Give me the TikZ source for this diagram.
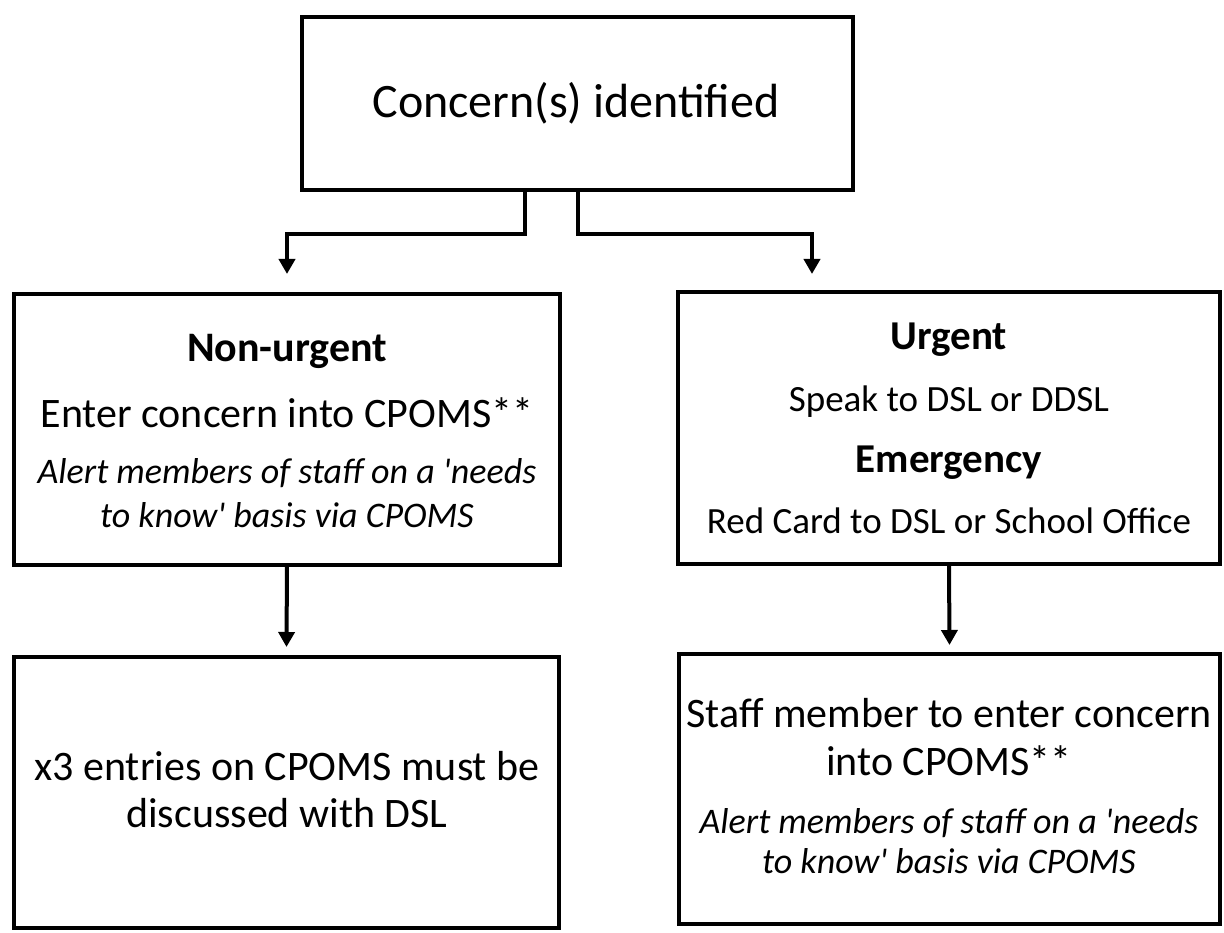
\documentclass[tikz,border=0pt]{standalone}
\usepackage{fontspec}
\setmainfont{Carlito}
\usetikzlibrary{arrows.meta}
\begin{document}
\begin{tikzpicture}[x=1pt,y=-1pt,
  box/.style={draw=black, line width=4.5pt, inner sep=0pt, outer sep=0pt},
  conn/.style={draw=black, line width=4pt, -{Triangle[width=16pt,length=15pt]}},
  txt/.style={anchor=base, inner sep=0pt, outer sep=0pt},
  big/.style={font=\fontsize{48}{58}\selectfont},
  mid/.style={font=\fontsize{42}{50}\selectfont},
  midb/.style={font=\bfseries\fontsize{42}{50}\selectfont},
  rb/.style={font=\bfseries\fontsize{41}{49}\selectfont},
  sm/.style={font=\fontsize{37}{44}\selectfont},
  it/.style={font=\itshape\fontsize{36}{43}\selectfont}]
\useasboundingbox (0,0) rectangle (1224,933);
\fill[white] (0,0) rectangle (1224,933);
% boxes
\node[box, minimum width=551pt, minimum height=173pt] (top) at (577.5,103.5) {};
\node[box, minimum width=546pt, minimum height=271pt] (l2) at (287,429.5) {};
\node[box, minimum width=542pt, minimum height=272pt] (r2) at (949,428) {};
\node[box, minimum width=545pt, minimum height=271pt] (l3) at (286.5,792.5) {};
\node[box, minimum width=541pt, minimum height=270pt] (r3) at (949.5,789) {};
% texts
\node[txt, big] (t0) at (576,118) {Concern(s) identified};
\node[txt, midb] (t1) at (287,362) {Non-urgent};
\node[txt, mid] (t2) at (287,427) {Enter concern into CPOMS**};
\node[txt, it] (t3) at (287,483) {Alert members of staff on a \textquotesingle needs};
\node[txt, it] (t4) at (287,527) {to know\textquotesingle{} basis via CPOMS};
\node[txt, rb] (u1) at (949,350) {Urgent};
\node[txt, sm] (u2) at (949,411) {Speak to DSL or DDSL};
\node[txt, rb] (u3) at (949,472) {Emergency};
\node[txt, sm] (u4) at (949,533) {Red Card to DSL or School Office};
\node[txt, mid] (x1) at (287,780) {x3 entries on CPOMS must be};
\node[txt, mid] (x2) at (287,827) {discussed with DSL};
\node[txt, mid] (s1) at (949,727) {Staff member to enter concern};
\node[txt, mid] (s2) at (949,775) {into CPOMS**};
\node[txt, it] (s3) at (949,833) {Alert members of staff on a \textquotesingle needs};
\node[txt, it] (s4) at (949,873) {to know\textquotesingle{} basis via CPOMS};
% connectors
\coordinate (rtip) at (812,274);
\draw[conn] ([xshift=-53pt]top.south) -- ++(0,44) -| ([yshift=20pt]l2.north);
\draw[conn] (top.south) -- ++(0,44) -| (rtip);
\draw[conn] (l2.south) -- ([yshift=10pt]l3.north);
\draw[conn] (r2.south) -- ([yshift=9pt]r3.north);
\end{tikzpicture}
\end{document}
